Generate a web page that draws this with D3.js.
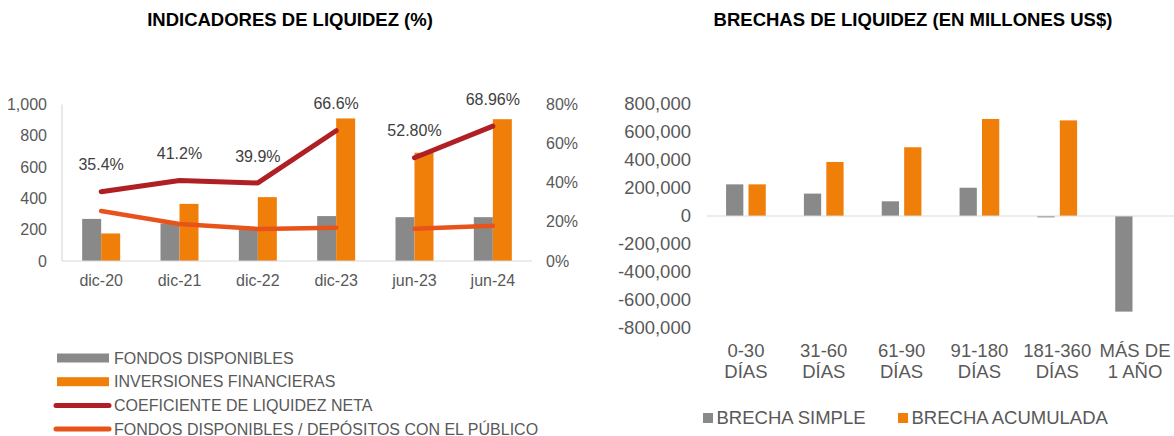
<!DOCTYPE html>
<html>
<head>
<meta charset="utf-8">
<script src="https://cdn.jsdelivr.net/npm/d3@7"></script>
<style>
  body { margin: 0; background: #fff; }
  svg text { font-family: "Liberation Sans", Arial, sans-serif; }
</style>
</head>
<body>
<svg id="chart" width="1174" height="436"></svg>
<script>
// ---- Data: left chart (indicadores de liquidez) ----
const periods = ["dic-20", "dic-21", "dic-22", "dic-23", "jun-23", "jun-24"];
const fondosDisponibles = [269, 240, 210, 287, 280, 280];
const inversionesFinancieras = [176, 365, 408, 911, 692, 906];
const coefLiquidezNeta = [35.4, 41.2, 39.9, 66.6, 52.8, 68.96];
const coefLabels = ["35.4%", "41.2%", "39.9%", "66.6%", "52.80%", "68.96%"];
const fondosDepositos = [25.6, 18.9, 16.4, 17.0, 16.5, 18.0];
// the lines break between dic-23 and jun-23
const lineSegments = [[0, 1, 2, 3], [4, 5]];
const leftTicks = [0, 200, 400, 600, 800, 1000];
const rightTicks = [0, 20, 40, 60, 80];

// ---- Data: right chart (brechas de liquidez) ----
const bandas = [["0-30", "DÍAS"], ["31-60", "DÍAS"], ["61-90", "DÍAS"], ["91-180", "DÍAS"], ["181-360", "DÍAS"], ["MÁS DE", "1 AÑO"]];
const brechaSimple = [226000, 160000, 105000, 202000, -10000, -683000];
const brechaAcumulada = [226000, 386000, 491000, 693000, 683000, 0];
const gapTicks = [-800000, -600000, -400000, -200000, 0, 200000, 400000, 600000, 800000];

const GREY = "#898989", ORANGE = "#F07F09", RED = "#AF1F24", ORANGE_LINE = "#E8531B";
const TEXT = "#595959";

const svg = d3.select("#chart");

// ================= LEFT CHART =================
svg.append("text")
    .attr("x", 290).attr("y", 26)
    .attr("text-anchor", "middle")
    .attr("font-size", 18.5).attr("font-weight", "bold").attr("fill", "#000")
    .text("INDICADORES DE LIQUIDEZ (%)");

const xL = d3.scaleBand().domain(periods).range([62, 532]).paddingInner(0.515).paddingOuter(0.2575);
const xL1 = d3.scaleBand().domain(["fondos", "inversiones"]).range([0, xL.bandwidth()]);
const yL = d3.scaleLinear().domain([0, 1000]).range([261, 104.5]);
const yR = d3.scaleLinear().domain([0, 80]).range([261, 104.5]);

const left = svg.append("g");

// bars
const barSeries = [["fondos", fondosDisponibles, GREY], ["inversiones", inversionesFinancieras, ORANGE]];
barSeries.forEach(([key, vals, col]) => {
  left.append("g").selectAll("rect")
    .data(periods)
    .join("rect")
    .attr("x", d => xL(d) + xL1(key))
    .attr("width", xL1.bandwidth())
    .attr("y", (d, i) => yL(vals[i]))
    .attr("height", (d, i) => yL(0) - yL(vals[i]))
    .attr("fill", col);
});

// axis lines
left.append("line").attr("x1", 62).attr("x2", 532).attr("y1", yL(0)).attr("y2", yL(0))
    .attr("stroke", "#D9D9D9").attr("stroke-width", 1.2);
left.append("line").attr("x1", 62).attr("x2", 62).attr("y1", yL(1000)).attr("y2", yL(0))
    .attr("stroke", "#D9D9D9").attr("stroke-width", 1.2);

// left ticks
left.append("g").selectAll("text").data(leftTicks).join("text")
    .attr("x", 47).attr("y", d => yL(d)).attr("dy", "0.35em")
    .attr("text-anchor", "end").attr("font-size", 16).attr("fill", TEXT)
    .text(d => d3.format(",")(d));
// right ticks
left.append("g").selectAll("text").data(rightTicks).join("text")
    .attr("x", 546).attr("y", d => yR(d)).attr("dy", "0.35em")
    .attr("text-anchor", "start").attr("font-size", 16).attr("fill", TEXT)
    .text(d => d + "%");
// x labels
left.append("g").selectAll("text").data(periods).join("text")
    .attr("x", d => xL(d) + xL.bandwidth() / 2).attr("y", 280).attr("dy", "0.35em")
    .attr("text-anchor", "middle").attr("font-size", 16).attr("fill", TEXT)
    .text(d => d);

// lines
const cx = i => xL(periods[i]) + xL.bandwidth() / 2;
const lineGen = vals => d3.line().x(i => cx(i)).y(i => yR(vals[i]));
[[fondosDepositos, ORANGE_LINE, 4.5], [coefLiquidezNeta, RED, 5]].forEach(([vals, col, w]) => {
  lineSegments.forEach(seg => {
    left.append("path")
        .attr("d", lineGen(vals)(seg))
        .attr("fill", "none").attr("stroke", col).attr("stroke-width", w)
        .attr("stroke-linecap", "round").attr("stroke-linejoin", "round");
  });
});

// data labels
left.append("g").selectAll("text").data(coefLiquidezNeta).join("text")
    .attr("x", (d, i) => cx(i)).attr("y", d => yR(d) - 27).attr("dy", "0.35em")
    .attr("text-anchor", "middle").attr("font-size", 16).attr("fill", "#404040")
    .text((d, i) => coefLabels[i]);

// legend
const legL = [
  ["rect", GREY, "FONDOS DISPONIBLES"],
  ["rect", ORANGE, "INVERSIONES FINANCIERAS"],
  ["line", RED, "COEFICIENTE DE LIQUIDEZ NETA"],
  ["line", ORANGE_LINE, "FONDOS DISPONIBLES / DEPÓSITOS CON EL PÚBLICO"]
];
legL.forEach(([type, col, label], i) => {
  const y = 358 + i * 23.7;
  if (type === "rect") {
    svg.append("rect").attr("x", 57).attr("y", y - 4.5).attr("width", 52).attr("height", 9).attr("fill", col);
  } else {
    svg.append("line").attr("x1", 56).attr("x2", 109).attr("y1", y).attr("y2", y)
        .attr("stroke", col).attr("stroke-width", 5).attr("stroke-linecap", "round");
  }
  svg.append("text").attr("x", 114).attr("y", y).attr("dy", "0.35em")
      .attr("font-size", 16).attr("fill", TEXT).text(label);
});

// ================= RIGHT CHART =================
svg.append("text")
    .attr("x", 913).attr("y", 26)
    .attr("text-anchor", "middle")
    .attr("font-size", 18.5).attr("font-weight", "bold").attr("fill", "#000")
    .text("BRECHAS DE LIQUIDEZ (EN MILLONES US$)");

const bandNames = bandas.map(d => d.join(" "));
const xG = d3.scaleBand().domain(bandNames).range([707, 1174]).paddingInner(0.49).paddingOuter(0.245);
const xG1 = d3.scaleBand().domain(["simple", "acumulada"]).range([0, xG.bandwidth()]).paddingInner(0.23);
const yG = d3.scaleLinear().domain([-800000, 800000]).range([328, 104]);

const right = svg.append("g");
[["simple", brechaSimple, GREY], ["acumulada", brechaAcumulada, ORANGE]].forEach(([key, vals, col]) => {
  right.append("g").selectAll("rect")
    .data(bandNames)
    .join("rect")
    .attr("x", d => xG(d) + xG1(key))
    .attr("width", xG1.bandwidth())
    .attr("y", (d, i) => yG(Math.max(0, vals[i])))
    .attr("height", (d, i) => Math.abs(yG(vals[i]) - yG(0)))
    .attr("fill", col);
});

right.append("line").attr("x1", 707).attr("x2", 1174).attr("y1", yG(0)).attr("y2", yG(0))
    .attr("stroke", "#D9D9D9").attr("stroke-width", 1.2);

right.append("g").selectAll("text").data(gapTicks).join("text")
    .attr("x", 691).attr("y", d => yG(d)).attr("dy", "0.35em")
    .attr("text-anchor", "end").attr("font-size", 18.5).attr("fill", TEXT)
    .text(d => d3.format(",")(d).replace("−", "-"));

const xlab = right.append("g").selectAll("text").data(bandas).join("text")
    .attr("x", (d, i) => xG(bandNames[i]) + xG.bandwidth() / 2)
    .attr("text-anchor", "middle").attr("font-size", 18.5).attr("fill", TEXT);
xlab.append("tspan").attr("x", (d, i) => xG(bandNames[i]) + xG.bandwidth() / 2).attr("y", 357).text(d => d[0]);
xlab.append("tspan").attr("x", (d, i) => xG(bandNames[i]) + xG.bandwidth() / 2).attr("y", 378).text(d => d[1]);

// legend
[[GREY, "BRECHA SIMPLE", 703], [ORANGE, "BRECHA ACUMULADA", 898]].forEach(([col, label, x]) => {
  svg.append("rect").attr("x", x).attr("y", 413).attr("width", 10).attr("height", 10).attr("fill", col);
  svg.append("text").attr("x", x + 13.5).attr("y", 418).attr("dy", "0.35em")
      .attr("font-size", 18.5).attr("fill", TEXT).text(label);
});
</script>
</body>
</html>
